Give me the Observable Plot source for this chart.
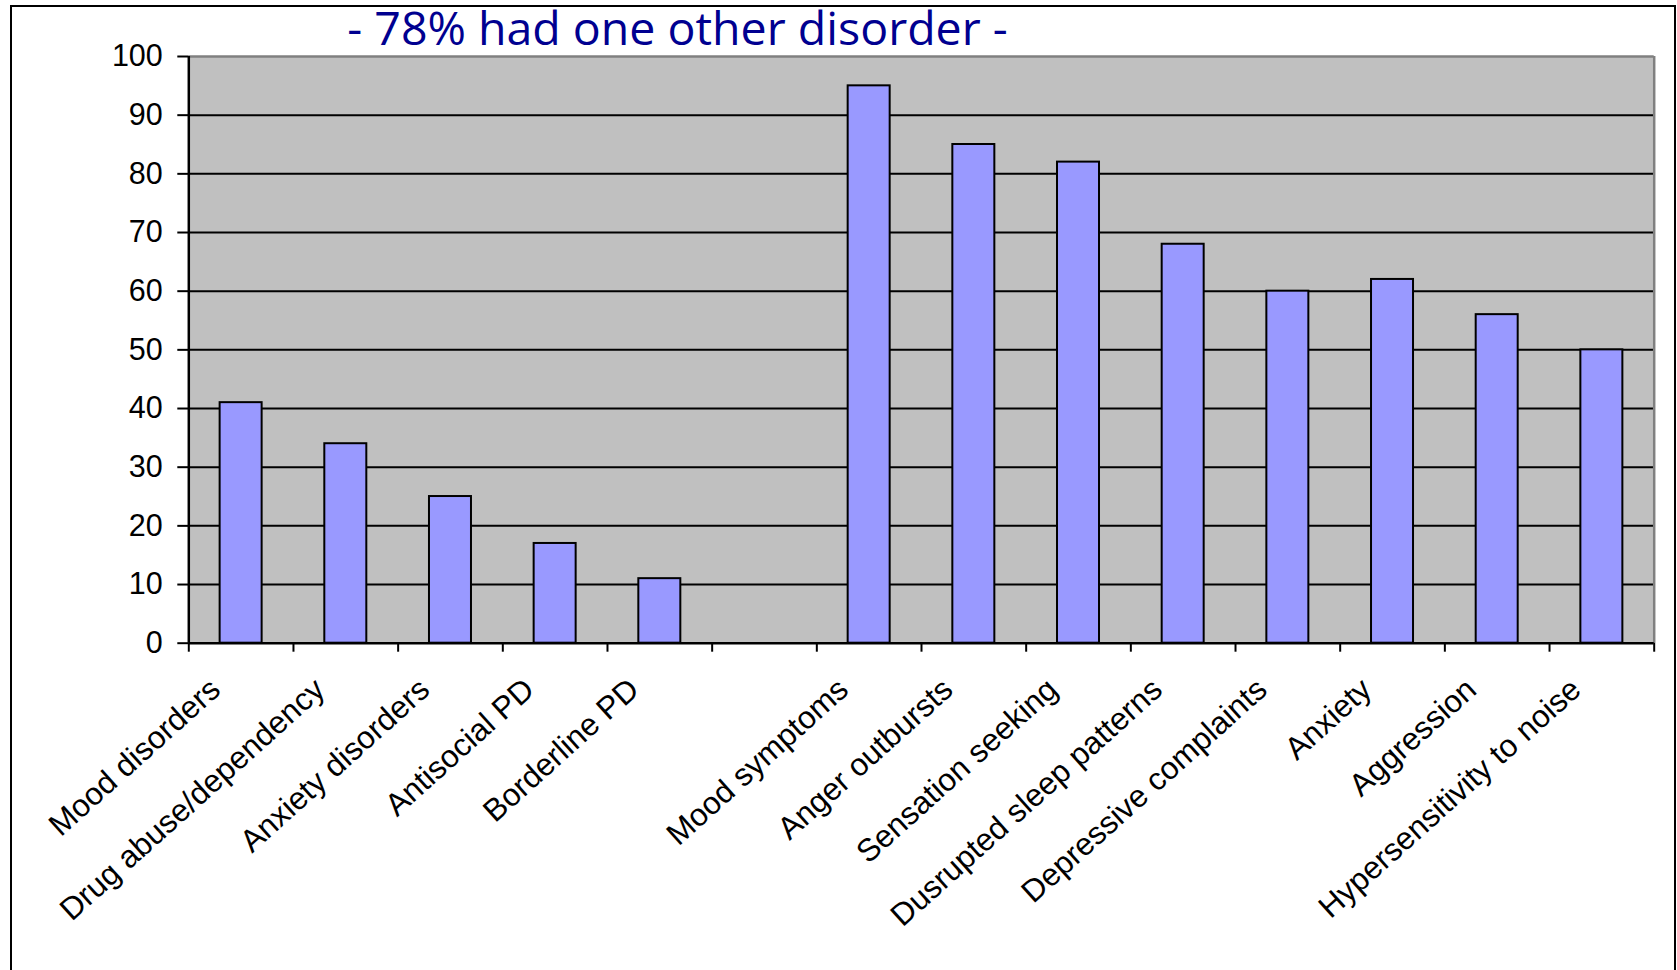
<!DOCTYPE html>
<html><head><meta charset="utf-8">
<script src="https://cdn.jsdelivr.net/npm/d3@7"></script>
<script src="https://cdn.jsdelivr.net/npm/@observablehq/plot@0.6"></script>
<style>
html,body{margin:0;padding:0;background:#fff;overflow:hidden;width:1677px;height:970px}
#wrap{position:relative;width:1677px;height:970px}
#border{position:absolute;left:10px;top:5px;width:1666px;height:1000px;border:2px solid #000;box-sizing:border-box;border-bottom:none}
#chart{position:absolute;left:0;top:0}
</style></head><body><div id="wrap"><div id="border"></div><div id="chart"></div></div>
<script>
const categories = ["Mood disorders","Drug abuse/dependency","Anxiety disorders","Antisocial PD","Borderline PD","","Mood symptoms","Anger outbursts","Sensation seeking","Dusrupted sleep patterns","Depressive complaints","Anxiety","Aggression","Hypersensitivity to noise"];
const values = [41,34,25,17,11,null,95,85,82,68,60,62,56,50];
const yTicks = [0,10,20,30,40,50,60,70,80,90,100];
const title = "- 78% had one other disorder -";

const W = 1677, H = 970;
const mL = 188.3, mR = 23.3, mT = 56, mB = 327.3;
const bw = (W - mL - mR) / categories.length;
const barW = 42;
const inset = (bw - barW) / 2;
const data = categories.map((c, i) => ({category: c, value: values[i]})).filter(d => d.value != null);
const last = categories[categories.length - 1];

const chart = Plot.plot({
  width: W, height: H,
  marginLeft: mL, marginRight: mR, marginTop: mT, marginBottom: mB,
  style: {fontFamily: "'Liberation Sans', Arial, sans-serif", background: "transparent", overflow: "visible"},
  x: {type: "band", domain: categories, padding: 0, round: false, axis: null},
  y: {domain: [0, 100], axis: null},
  marks: [
    Plot.frame({fill: "#C0C0C0", stroke: null}),
    Plot.ruleY(yTicks.filter(d => d > 0 && d < 100), {stroke: "#000", strokeWidth: 2}),
    Plot.ruleY([100], {stroke: "#808080", strokeWidth: 2.5}),
    Plot.ruleX([last], {dx: bw / 2, stroke: "#808080", strokeWidth: 2.5}),
    Plot.barY(data, {x: "category", y: "value", fill: "#9999FF", stroke: "#000", strokeWidth: 2, insetLeft: inset, insetRight: inset}),
    Plot.ruleX([categories[0]], {dx: -bw / 2, stroke: "#000", strokeWidth: 2.5}),
    Plot.ruleY([0], {stroke: "#000", strokeWidth: 2.5}),
    Plot.ruleX(categories, {dx: -bw / 2, y1: 0, y2: 0, insetBottom: -9, stroke: "#000", strokeWidth: 2}),
    Plot.ruleX([last], {dx: bw / 2, y1: 0, y2: 0, insetBottom: -9, stroke: "#000", strokeWidth: 2}),
    Plot.axisY({ticks: yTicks, label: null, tickSize: 11, tickPadding: 15, fontSize: 30.5, strokeWidth: 2, stroke: "#000", fill: "#000"}),
    Plot.text(categories, {x: d => d, frameAnchor: "bottom", rotate: -42, textAnchor: "end", lineAnchor: "bottom", dx: -19, dy: 49, fontSize: 31.5, fill: "#000"}),
    Plot.text([title], {frameAnchor: "top-left", textAnchor: "middle", lineAnchor: "bottom", dx: 677 - mL, dy: 44 - mT, fontSize: 46.5, fill: "#000090", fontFamily: "'Open Sans', sans-serif"})
  ]
});
document.getElementById("chart").appendChild(chart);
</script></body></html>
